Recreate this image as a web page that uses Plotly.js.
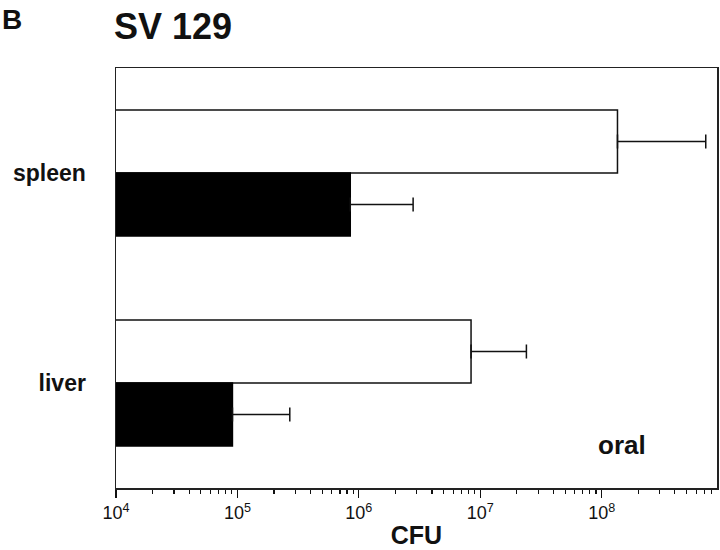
<!DOCTYPE html>
<html>
<head>
<meta charset="utf-8">
<script src="https://cdn.plot.ly/plotly-3.0.1.min.js"></script>
<style>html,body{margin:0;padding:0;background:#fff;}#chart{width:720px;height:550px;}</style>
</head>
<body>
<div id="chart"></div>
<script>
const categories = ['spleen', 'liver'];
const categoryLabels = ['<b>spleen</b>', '<b>liver</b>'];
const whiteValues = [1.35e8, 8.4e6];
const whiteErrors = [5.85e8, 1.56e7];
const blackValues = [8.5e5, 9.1e4];
const blackErrors = [1.95e6, 1.79e5];
const majorTickVals = [1e4, 1e5, 1e6, 1e7, 1e8];
const majorTickText = ['10<sup>4</sup>', '10<sup>5</sup>', '10<sup>6</sup>', '10<sup>7</sup>', '10<sup>8</sup>'];
const minorTickVals = [];
for (let d = 4; d <= 8; d++) {
  for (let m = 2; m <= 9; m++) minorTickVals.push(m * Math.pow(10, d));
}

const font = 'Liberation Sans, Arial, sans-serif';

const traces = [
  {
    type: 'bar', orientation: 'h', y: categories, x: whiteValues,
    marker: {color: '#ffffff', line: {color: '#111', width: 1.5}},
    error_x: {type: 'data', symmetric: false, array: whiteErrors, arrayminus: [0, 0], color: '#111', thickness: 1.5, width: 7},
    showlegend: false, hoverinfo: 'skip'
  },
  {
    type: 'bar', orientation: 'h', y: categories, x: blackValues,
    marker: {color: '#000000', line: {color: '#000', width: 1.5}},
    error_x: {type: 'data', symmetric: false, array: blackErrors, arrayminus: [0, 0], color: '#111', thickness: 1.5, width: 7},
    showlegend: false, hoverinfo: 'skip'
  }
];

const layout = {
  width: 720, height: 550,
  margin: {l: 116, r: 3, t: 68, b: 62},
  paper_bgcolor: '#fff', plot_bgcolor: '#fff',
  barmode: 'group', bargap: 0.4, bargroupgap: 0,
  font: {family: font, color: '#111'},
  xaxis: {
    type: 'log', range: [4, 8.95],
    tickmode: 'array', tickvals: majorTickVals, ticktext: majorTickText,
    ticks: 'outside', ticklen: 8, tickwidth: 1.3, tickcolor: '#111',
    minor: {tickmode: 'array', tickvals: minorTickVals, ticks: 'outside', ticklen: 4, tickwidth: 1.2, tickcolor: '#111', showgrid: false},
    tickfont: {family: font, size: 18, color: '#111'},
    showline: true, linecolor: '#222', linewidth: 1.5, mirror: true,
    showgrid: false, zeroline: false,
    title: {text: '<b>CFU</b>', font: {family: font, size: 25, color: '#111'}, standoff: 4}
  },
  yaxis: {
    type: 'category', autorange: 'reversed',
    tickmode: 'array', tickvals: categories, ticktext: categoryLabels,
    ticks: '', showline: true, linecolor: '#222', linewidth: 1.5, mirror: true,
    showgrid: false, zeroline: false,
    tickfont: {family: font, size: 23, color: '#111'},
    ticklabelstandoff: 24
  },
  annotations: [
    {text: '<b>SV 129</b>', xref: 'paper', yref: 'paper', x: -0.006, y: 1 + (68 - 27) / 420, xanchor: 'left', yanchor: 'middle', showarrow: false, font: {family: font, size: 36, color: '#111'}},
    {text: '<b>B</b>', xref: 'paper', yref: 'paper', x: -116 / 601, y: 1 + (68 - 20) / 420, xanchor: 'left', yanchor: 'middle', showarrow: false, font: {family: font, size: 28, color: '#111'}},
    {text: '<b>oral</b>', xref: 'paper', yref: 'paper', x: 0.842, y: 0.102, xanchor: 'center', yanchor: 'middle', showarrow: false, font: {family: font, size: 26, color: '#111'}}
  ]
};
Plotly.newPlot('chart', traces, layout, {staticPlot: true});
</script>
</body>
</html>
